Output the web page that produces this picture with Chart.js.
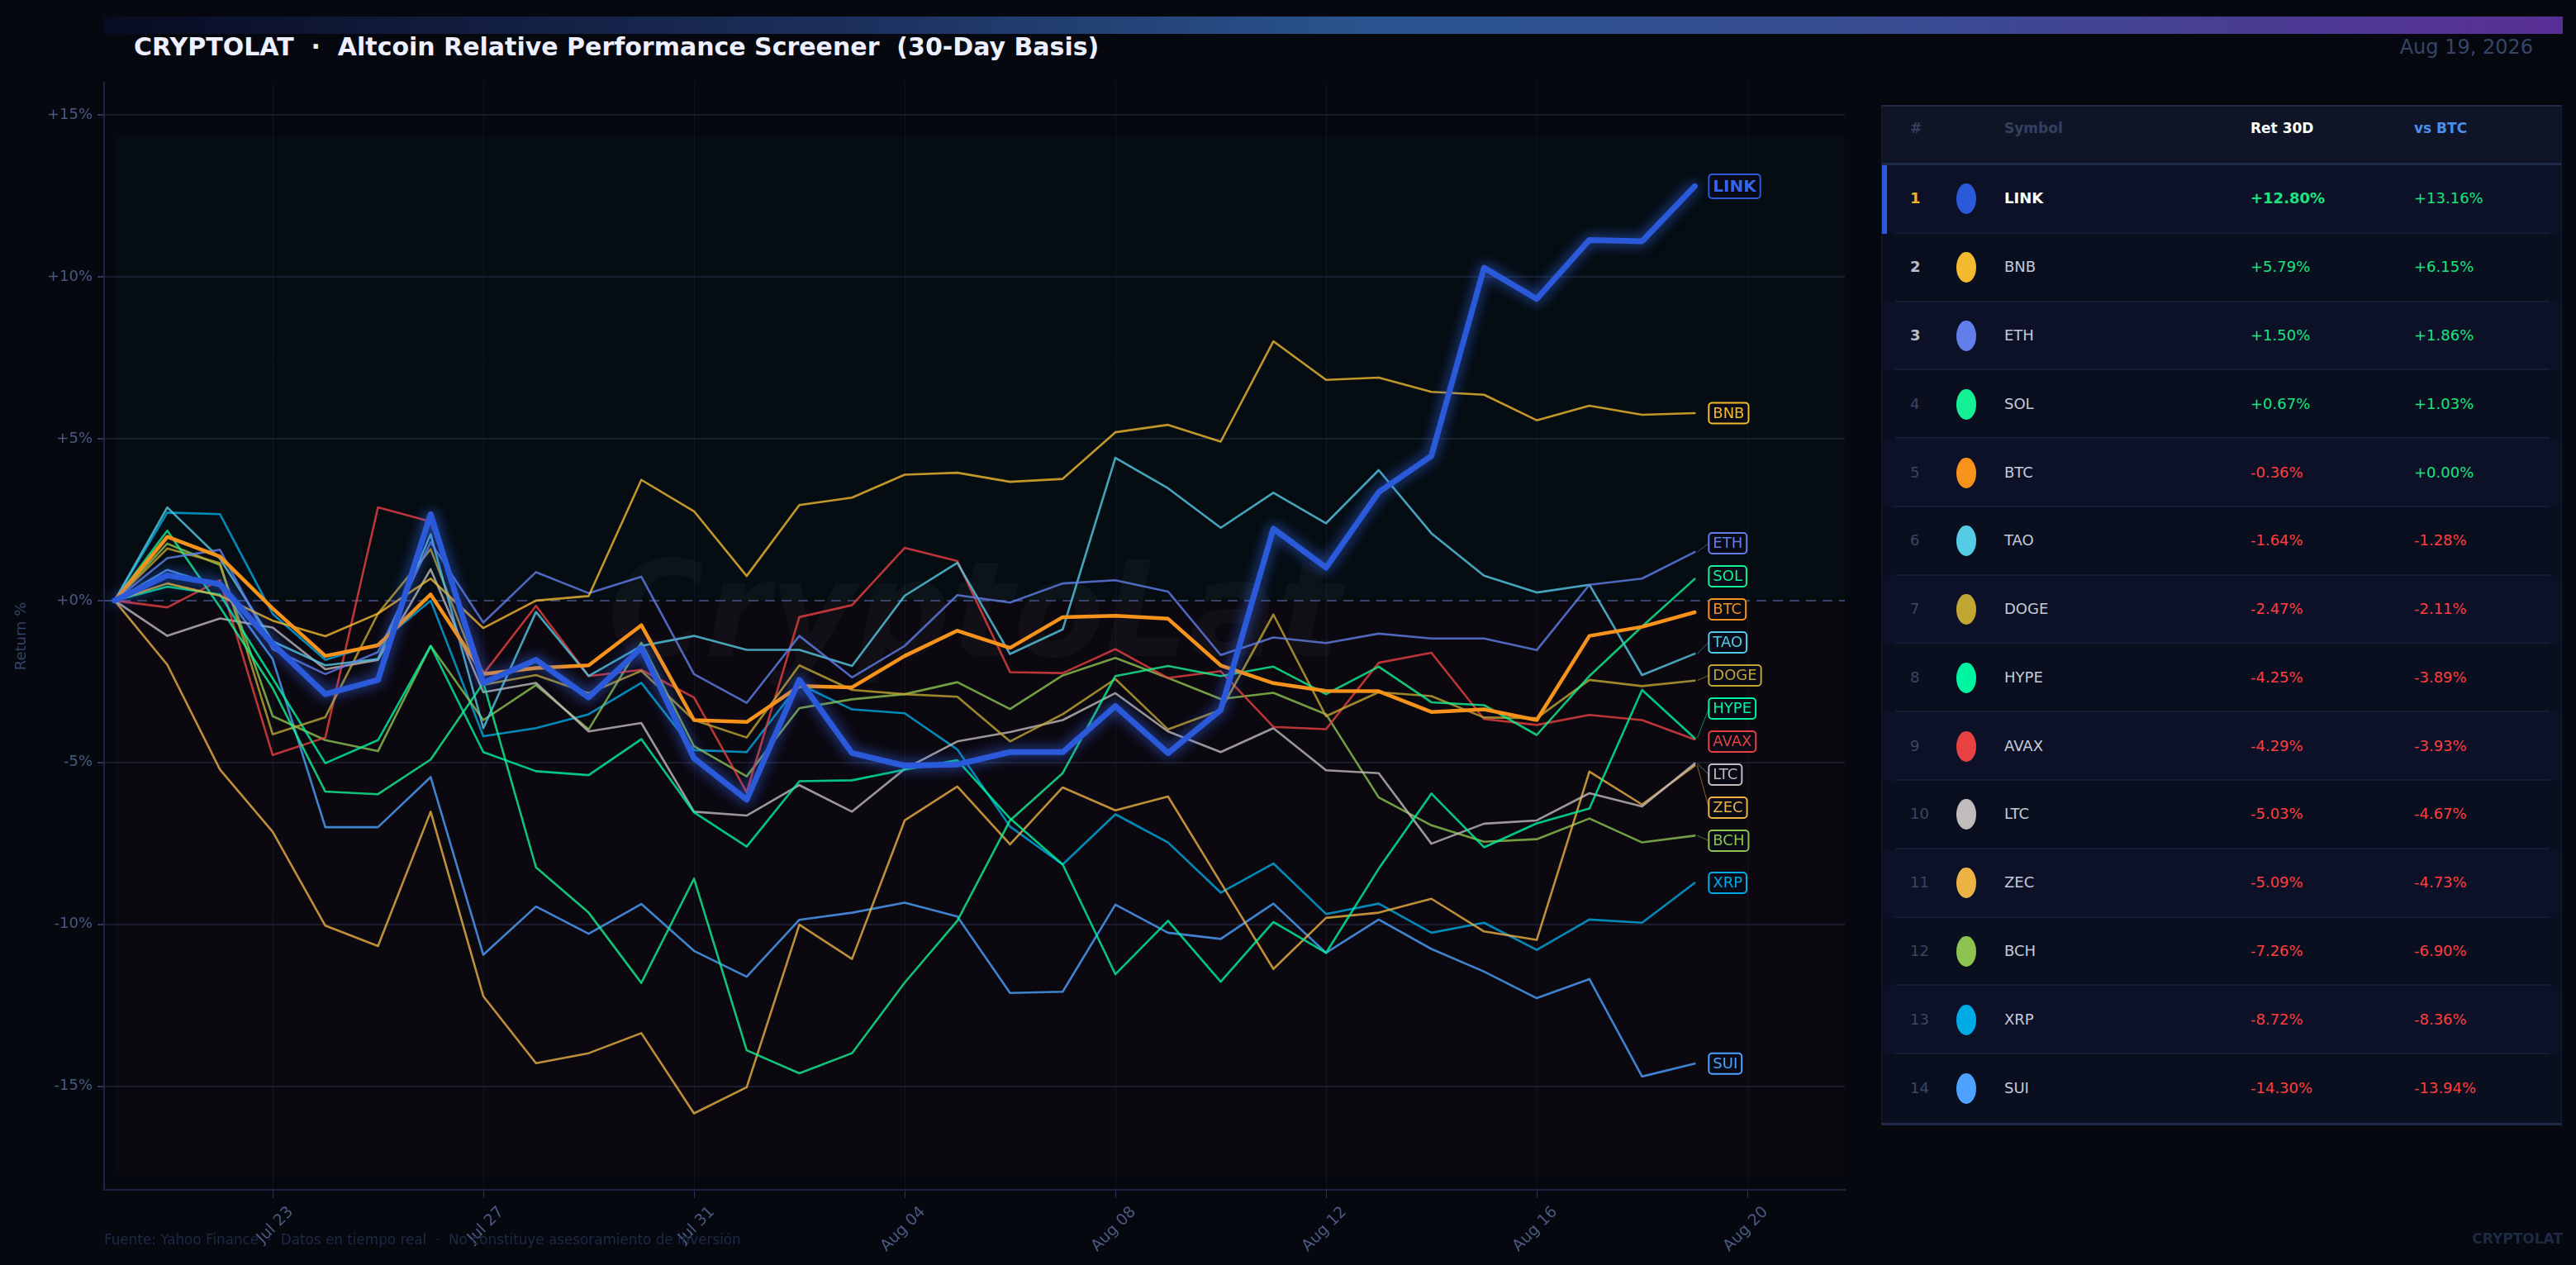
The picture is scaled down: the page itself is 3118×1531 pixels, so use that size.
<!DOCTYPE html>
<html>
<head>
<meta charset="utf-8">
<script src="https://cdn.jsdelivr.net/npm/chart.js@4.4.1/dist/chart.umd.min.js"></script>
<style>
  html, body { margin: 0; padding: 0; background: #05080f; }
  body { width: 3118px; height: 1531px; overflow: hidden; position: relative; font-family: 'DejaVu Sans', sans-serif; }
  #bar { position: absolute; left: 126px; top: 20px; width: 2976px; height: 21px;
         background: linear-gradient(90deg, #080c22 0%, #1c2f5c 30%, #2a5590 52%, #3a4a92 75%, #5a2f95 100%); }
  #title { position: absolute; left: 162px; top: 40px; line-height: 34px; font-size: 30px; font-weight: bold; color: #eef0ff; white-space: pre; }
  #date { position: absolute; right: 52px; top: 43px; line-height: 28px; font-size: 24px; color: #34466a; }
  #chart { position: absolute; left: 0; top: 0; }
  #panel { position: absolute; left: 2277px; top: 127px; width: 824px; height: 1235px; background: #0a0f1f;
           border-top: 2px solid #1e2a48; border-bottom: 3px solid #1e2a48; border-left: 1px solid #141c30; border-right: 1px solid #141c30; box-sizing: border-box; }
  .hdr { position: absolute; left: 0; top: 0; width: 100%; height: 71px; background: #0f1527; border-bottom: 3px solid #1e2a48; box-sizing: border-box; }
  .hdr .cell { top: 26px; }
  .cell { position: absolute; top: calc(50% - 2px); transform: translateY(-50%); white-space: pre; }
  .row { position: absolute; left: 0; width: 100%; }
  .sep { position: absolute; left: 16px; right: 14px; bottom: 0; height: 2px; background: #151d34; }
  .dot { position: absolute; left: 90px; top: 50%; width: 24px; height: 37px; margin-top: -19px; border-radius: 50%; }
  #foot { position: absolute; left: 126px; top: 1490px; font-size: 16.8px; color: #1e2946; white-space: pre; }
  #brand { position: absolute; right: 16px; top: 1489px; font-size: 17px; font-weight: bold; color: #1e2946; }
</style>
</head>
<body>
<div id="bar"></div>
<div id="title">CRYPTOLAT  ·  Altcoin Relative Performance Screener  (30-Day Basis)</div>
<div id="date">Aug 19, 2026</div>
<canvas id="chart" width="3118" height="1531"></canvas>
<div id="panel"></div>
<div id="foot">Fuente: Yahoo Finance  ·  Datos en tiempo real  ·  No constituye asesoramiento de inversión</div>
<div id="brand">CRYPTOLAT</div>
<script>
// 30 daily closes, Jul 20 -> Aug 19, cumulative return in %
const linkRet = [0, 0.78, 0.51, -1.34, -2.89, -2.45, 2.67, -2.54, -1.83, -2.99, -1.46, -4.87, -6.15, -2.45, -4.71, -5.10, -5.06, -4.68, -4.68, -3.26, -4.71, -3.38, 2.22, 1.02, 3.35, 4.47, 10.28, 9.32, 11.14, 11.10, 12.80];
const bnbRet  = [0, 0.53, 0.15, -0.62, -1.10, -0.40, 0.68, -0.85, 0.00, 0.14, 3.73, 2.76, 0.76, 2.95, 3.18, 3.89, 3.95, 3.67, 3.76, 5.20, 5.43, 4.91, 8.01, 6.82, 6.89, 6.45, 6.36, 5.57, 6.02, 5.74, 5.79];
const ethRet  = [0, 1.31, 1.57, -1.50, -2.27, -1.59, 1.80, -0.68, 0.88, 0.23, 0.74, -2.27, -3.16, -1.09, -2.37, -1.40, 0.17, -0.06, 0.53, 0.63, 0.28, -1.68, -1.14, -1.31, -1.02, -1.17, -1.17, -1.53, 0.49, 0.68, 1.50];
const solRet  = [0, 2.16, -0.20, -2.70, -5.90, -5.98, -4.91, -2.54, -8.24, -9.64, -11.81, -8.59, -13.89, -14.60, -13.98, -11.80, -9.89, -6.79, -5.33, -2.33, -2.02, -2.33, -2.04, -2.89, -2.04, -3.14, -3.23, -4.15, -2.33, -0.80, 0.67];
const btcRet  = [0, 1.97, 1.36, -0.24, -1.71, -1.38, 0.19, -2.27, -2.08, -2.00, -0.76, -3.69, -3.75, -2.64, -2.68, -1.71, -0.93, -1.46, -0.51, -0.47, -0.56, -2.00, -2.55, -2.79, -2.80, -3.44, -3.36, -3.69, -1.09, -0.81, -0.36];
const taoRet  = [0, 2.88, 1.30, -1.26, -2.00, -1.80, 2.05, -3.94, -0.35, -2.33, -1.40, -1.09, -1.52, -1.52, -2.02, 0.15, 1.17, -1.65, -0.89, 4.41, 3.47, 2.25, 3.33, 2.39, 4.03, 2.08, 0.77, 0.25, 0.49, -2.30, -1.64];
const dogeRet = [0, 1.61, 1.16, -4.13, -3.60, -0.40, 1.59, -2.60, -2.30, -2.86, -2.17, -3.69, -4.23, -2.00, -2.76, -2.89, -2.97, -4.35, -3.51, -2.42, -3.98, -3.38, -0.43, -3.57, -2.83, -2.95, -3.61, -3.63, -2.45, -2.64, -2.47];
const hypeRet = [0, 0.43, 0.19, -2.40, -5.02, -4.31, -1.40, -4.68, -5.27, -5.39, -4.28, -6.54, -7.60, -5.58, -5.55, -5.22, -4.93, -6.73, -8.15, -11.54, -9.89, -11.77, -9.93, -10.88, -8.28, -5.96, -7.62, -6.88, -6.42, -2.76, -4.25];
const avaxRet = [0, -0.21, 0.63, -4.77, -4.23, 2.88, 2.44, -2.27, -0.16, -2.33, -2.14, -2.99, -5.92, -0.51, -0.14, 1.63, 1.22, -2.21, -2.24, -1.50, -2.39, -2.18, -3.90, -3.97, -1.92, -1.61, -3.66, -3.84, -3.53, -3.69, -4.29];
const ltcRet  = [0, -1.09, -0.55, -0.83, -2.12, -1.83, 0.97, -2.83, -2.54, -4.04, -3.78, -6.52, -6.64, -5.70, -6.52, -5.20, -4.35, -4.06, -3.69, -2.86, -4.04, -4.68, -3.94, -5.24, -5.33, -7.51, -6.89, -6.79, -5.95, -6.36, -5.03];
const zecRet  = [0, -1.98, -5.22, -7.14, -10.04, -10.67, -6.52, -12.22, -14.29, -13.98, -13.36, -15.84, -15.03, -10.01, -11.07, -6.79, -5.74, -7.53, -5.77, -6.48, -6.05, -8.71, -11.38, -9.80, -9.64, -9.21, -10.22, -10.48, -5.28, -6.30, -5.09];
const bchRet  = [0, 1.76, 1.10, -3.57, -4.31, -4.65, -1.40, -3.69, -2.61, -3.98, -1.30, -4.50, -5.43, -3.32, -3.05, -2.89, -2.52, -3.35, -2.31, -1.77, -2.39, -3.04, -2.85, -3.51, -6.08, -6.94, -7.45, -7.37, -6.73, -7.47, -7.26];
const xrpRet  = [0, 2.72, 2.67, -0.41, -1.83, -1.34, 0.00, -4.19, -3.94, -3.51, -2.54, -4.62, -4.68, -2.58, -3.36, -3.48, -4.60, -6.98, -8.15, -6.60, -7.47, -9.02, -8.12, -9.68, -9.36, -10.26, -9.95, -10.79, -9.85, -9.95, -8.72];
const suiRet  = [0, 0.95, 0.44, -1.80, -7.00, -7.00, -5.45, -10.94, -9.45, -10.29, -9.37, -10.82, -11.62, -9.86, -9.64, -9.33, -9.76, -12.12, -12.08, -9.39, -10.26, -10.45, -9.36, -10.88, -9.85, -10.76, -11.46, -12.28, -11.69, -14.70, -14.30];

// x axis: day index from Jul 20
const tickDays   = [3, 7, 11, 15, 19, 23, 27, 31];
const tickLabels = ["Jul 23", "Jul 27", "Jul 31", "Aug 04", "Aug 08", "Aug 12", "Aug 16", "Aug 20"];

// ranking table
const rankSymbols = ["LINK", "BNB", "ETH", "SOL", "BTC", "TAO", "DOGE", "HYPE", "AVAX", "LTC", "ZEC", "BCH", "XRP", "SUI"];
const ret30d = [12.80, 5.79, 1.50, 0.67, -0.36, -1.64, -2.47, -4.25, -4.29, -5.03, -5.09, -7.26, -8.72, -14.30];
const vsBtc  = [13.16, 6.15, 1.86, 1.03, 0.00, -1.28, -2.11, -3.89, -3.93, -4.67, -4.73, -6.90, -8.36, -13.94];

const seriesBySymbol = {
  LINK: linkRet, BNB: bnbRet, ETH: ethRet, SOL: solRet, BTC: btcRet, TAO: taoRet, DOGE: dogeRet,
  HYPE: hypeRet, AVAX: avaxRet, LTC: ltcRet, ZEC: zecRet, BCH: bchRet, XRP: xrpRet, SUI: suiRet
};

const coinColors = {
  LINK: "#2a5ada", BNB: "#f3ba2f", ETH: "#627eea", SOL: "#14f195", BTC: "#f7931a", TAO: "#56cbe6",
  DOGE: "#c2a633", HYPE: "#00f5a0", AVAX: "#e84142", LTC: "#c0bcbc", ZEC: "#ecb244", BCH: "#8dc351",
  XRP: "#00aae4", SUI: "#4da2ff"
};

const axisText = "#4a5a80";
const font = "'DejaVu Sans', sans-serif";
Chart.defaults.font.family = font;

const withAlpha = (hex, a) => {
  const n = parseInt(hex.slice(1), 16);
  return `rgba(${(n >> 16) & 255}, ${(n >> 8) & 255}, ${n & 255}, ${a})`;
};

// zones, watermark and the zero line
const backdrop = {
  id: "backdrop",
  beforeDatasetsDraw(chart) {
    const { ctx, chartArea: a, scales: { x, y } } = chart;
    const all = Object.values(seriesBySymbol).flat();
    const top = y.getPixelForValue(Math.max(...all) * 1.12);
    const bottom = y.getPixelForValue(Math.min(...all) * 1.12);
    const zero = y.getPixelForValue(0);
    const x0 = x.getPixelForValue(0);
    ctx.save();
    ctx.fillStyle = "rgba(20, 170, 130, 0.035)";
    ctx.fillRect(x0, top, a.right - x0, zero - top);
    ctx.fillStyle = "rgba(210, 30, 60, 0.03)";
    ctx.fillRect(x0, zero, a.right - x0, bottom - zero);

    ctx.font = `italic bold 160px ${font}`;
    ctx.fillStyle = "rgba(255, 255, 255, 0.03)";
    ctx.textAlign = "center";
    ctx.textBaseline = "middle";
    ctx.fillText("CryptoLat", (a.left + a.right) / 2, 752);

    ctx.strokeStyle = "#36436a";
    ctx.lineWidth = 2;
    ctx.setLineDash([12, 8]);
    ctx.beginPath();
    ctx.moveTo(a.left, zero);
    ctx.lineTo(a.right, zero);
    ctx.stroke();
    ctx.restore();
  }
};

// soft glow under the leader line
const glow = {
  id: "glow",
  beforeDatasetDraw(chart, args) {
    if (chart.data.datasets[args.index].label !== "LINK") return;
    chart.ctx.save();
    chart.ctx.shadowColor = "rgba(60, 110, 255, 0.85)";
    chart.ctx.shadowBlur = 16;
  },
  afterDatasetDraw(chart, args) {
    if (chart.data.datasets[args.index].label === "LINK") chart.ctx.restore();
  }
};

// boxed symbol tags at the end of every line, spread so they do not overlap
const endLabels = {
  id: "endLabels",
  afterDatasetsDraw(chart) {
    const { ctx } = chart;
    const items = chart.data.datasets.map((ds, i) => {
      const pts = chart.getDatasetMeta(i).data;
      const p = pts[pts.length - 1];
      return { name: ds.label, x: p.x, y: p.y, pos: p.y };
    }).sort((a, b) => a.y - b.y);
    const gap = 40;
    for (let k = 0; k < 300; k++) {
      let moved = false;
      for (let i = 1; i < items.length; i++) {
        const d = items[i].pos - items[i - 1].pos;
        if (d < gap - 0.01) {
          const s = (gap - d) / 2;
          items[i].pos += s;
          items[i - 1].pos -= s;
          moved = true;
        }
      }
      if (!moved) break;
    }
    ctx.save();
    items.forEach(it => {
      const c = coinColors[it.name];
      const bold = it.name === "LINK";
      const left = it.x + 17;
      if (Math.abs(it.pos - it.y) > 4) {
        ctx.strokeStyle = withAlpha(c, 0.55);
        ctx.lineWidth = 1;
        ctx.beginPath();
        ctx.moveTo(it.x + 3, it.y);
        ctx.lineTo(left, it.pos);
        ctx.stroke();
      }
      ctx.font = bold ? `bold 20px ${font}` : `18px ${font}`;
      const w = ctx.measureText(it.name).width + 10;
      const h = bold ? 29 : 25;
      ctx.beginPath();
      ctx.roundRect(left, it.pos - h / 2, w, h, 4);
      ctx.fillStyle = "#080b15";
      ctx.fill();
      ctx.strokeStyle = c;
      ctx.lineWidth = 2;
      ctx.stroke();
      ctx.fillStyle = bold ? "#3366ee" : c;
      ctx.textBaseline = "middle";
      ctx.textAlign = "left";
      ctx.fillText(it.name, left + 5, it.pos + 1);
    });
    ctx.restore();
  }
};

const datasets = rankSymbols.map(sym => ({
  label: sym,
  data: seriesBySymbol[sym].map((v, i) => ({ x: i, y: v })),
  borderColor: sym === "LINK" ? coinColors.LINK : sym === "BTC" ? coinColors.BTC : withAlpha(coinColors[sym], 0.8),
  borderWidth: sym === "LINK" ? 7 : sym === "BTC" ? 4.5 : 2.6,
  pointRadius: 0,
  tension: 0,
  borderJoinStyle: "round",
  borderCapStyle: "round",
  order: sym === "LINK" ? 0 : sym === "BTC" ? 1 : 2
}));

new Chart(document.getElementById("chart"), {
  type: "line",
  data: { datasets },
  options: {
    responsive: false,
    animation: false,
    layout: { padding: { left: 0, top: 100, right: 885, bottom: 0 } },
    plugins: { legend: { display: false }, tooltip: { enabled: false } },
    scales: {
      x: {
        type: "linear",
        min: -0.2,
        max: 32.85,
        afterBuildTicks: s => { s.ticks = tickDays.map(v => ({ value: v })); },
        afterFit: s => { s.height = 91; },
        ticks: {
          callback: v => tickLabels[tickDays.indexOf(v)],
          color: axisText,
          font: { size: 19 },
          minRotation: 45,
          maxRotation: 45,
          labelOffset: 22,
          padding: 6
        },
        grid: { color: "#0e131f", tickLength: 10, tickColor: "#2a3456" },
        border: { color: "#1c2440", width: 2 }
      },
      y: {
        min: -18.2,
        max: 16.0,
        afterFit: s => { s.width = 126; },
        ticks: {
          stepSize: 5,
          includeBounds: false,
          callback: v => (v >= 0 ? "+" : "") + v + "%",
          color: axisText,
          font: { size: 18 },
          padding: 6
        },
        grid: {
          color: c => c.tick && c.tick.value === 0 ? "rgba(0,0,0,0)" : "#161c2c",
          lineWidth: 2,
          tickLength: 8,
          tickColor: "#2a3456"
        },
        border: { color: "#1c2440", width: 2 },
        title: { display: true, text: "Return %", color: "#34446a", font: { size: 18 }, padding: { top: 16, bottom: 0 } }
      }
    }
  },
  plugins: [backdrop, glow, endLabels]
});

// ranking panel
const panel = document.getElementById("panel");
const colX = { rank: 34, sym: 148, ret: 446, vs: 644 };
const hdr = document.createElement("div");
hdr.className = "hdr";
hdr.innerHTML =
  `<div class="cell" style="left:${colX.rank}px;font-size:17px;font-weight:bold;color:#34405e">#</div>` +
  `<div class="cell" style="left:${colX.sym}px;font-size:17px;font-weight:bold;color:#34405e">Symbol</div>` +
  `<div class="cell" style="left:${colX.ret}px;font-size:17px;font-weight:bold;color:#ffffff">Ret 30D</div>` +
  `<div class="cell" style="left:${colX.vs}px;font-size:17px;font-weight:bold;color:#4a90e8">vs BTC</div>`;
panel.appendChild(hdr);

const rowH = (1235 - 2 - 3 - 71) / rankSymbols.length;
const fmt = v => (v >= 0 ? "+" : "") + v.toFixed(2) + "%";
rankSymbols.forEach((sym, i) => {
  const row = document.createElement("div");
  row.className = "row";
  row.style.top = (71 + i * rowH) + "px";
  row.style.height = rowH + "px";
  row.style.background = i % 2 === 0 ? "#0c1128" : "#0a0f1f";
  const rankColor = i === 0 ? "#f0b429" : i < 3 ? "#b8bdd0" : "#3a4564";
  const rankWeight = i < 3 ? "bold" : "normal";
  const first = i === 0;
  const up = v => v >= 0 ? "#19e47f" : "#ff3d3d";
  row.innerHTML =
    (first ? `<div style="position:absolute;left:0;top:0;width:6px;height:100%;background:#2a5ada"></div>` : "") +
    `<div class="cell" style="left:${colX.rank}px;font-size:18px;font-weight:${rankWeight};color:${rankColor}">${i + 1}</div>` +
    `<div class="dot" style="background:${coinColors[sym]}"></div>` +
    `<div class="cell" style="left:${colX.sym}px;font-size:18px;font-weight:${first ? "bold" : "normal"};color:${first ? "#ffffff" : "#c5cad8"}">${sym}</div>` +
    `<div class="cell" style="left:${colX.ret}px;font-size:18px;font-weight:${first ? "bold" : "normal"};color:${up(ret30d[i])}">${fmt(ret30d[i])}</div>` +
    `<div class="cell" style="left:${colX.vs}px;font-size:18px;color:${up(vsBtc[i])}">${fmt(vsBtc[i])}</div>` +
    (i < rankSymbols.length - 1 ? `<div class="sep"></div>` : "");
  panel.appendChild(row);
});
</script>
</body>
</html>
